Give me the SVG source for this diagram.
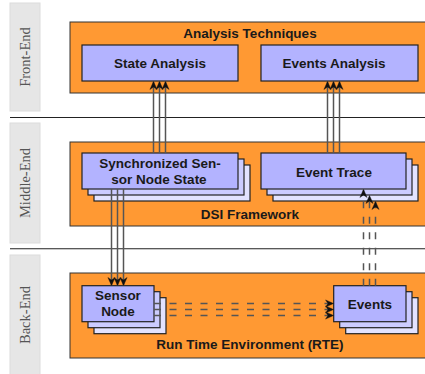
<svg xmlns="http://www.w3.org/2000/svg" width="425" height="374" viewBox="0 0 425 374">
  <style>
    .lane { fill: #e6e6e6; stroke: #dcdcdc; stroke-width: 1; }
    .lane-label { font-family: "Liberation Serif", "DejaVu Serif", serif; font-size: 14.5px; fill: #555; text-anchor: middle; }
    .layer { fill: #ff9933; stroke: #333; stroke-width: 1; }
    .sep { stroke: #222; stroke-width: 1.1; }
    .node { fill: #b3b3ff; stroke: #222; stroke-width: 1.2; }
    .node2 { fill: #ccccff; stroke: #222; stroke-width: 1.2; }
    .node3 { fill: #e3e3ff; stroke: #222; stroke-width: 1.2; }
    .label { font-family: "Liberation Sans", Arial, sans-serif; font-weight: bold; font-size: 13.5px; fill: #1a1a1a; text-anchor: middle; }
    .link { fill: none; stroke: #555; stroke-width: 1.5; }
    .dash { stroke-dasharray: 7 8.5; }
  </style>
  <defs>
    <marker id="head" viewBox="-9 -5 10 10" markerWidth="10" markerHeight="10" refX="0" refY="0" orient="auto" markerUnits="userSpaceOnUse">
      <path d="M0,0 L-8,-3.6 L-5.5,0 L-8,3.6 z" fill="#111" stroke="#111" stroke-width="0.4" stroke-linejoin="round"/>
    </marker>
  </defs>

  <!-- tier labels -->
  <g id="lane-front">
    <rect class="lane" x="10" y="3" width="30" height="108"/>
    <text class="lane-label" transform="translate(30,57) rotate(-90)">Front-End</text>
  </g>
  <g id="lane-middle">
    <rect class="lane" x="10" y="123" width="30" height="120"/>
    <text class="lane-label" transform="translate(30,183) rotate(-90)">Middle-End</text>
  </g>
  <g id="lane-back">
    <rect class="lane" x="10" y="255" width="30" height="125"/>
    <text class="lane-label" transform="translate(30,315) rotate(-90)">Back-End</text>
  </g>

  <!-- tier separators -->
  <line class="sep" x1="10" y1="117.5" x2="425" y2="117.5"/>
  <line class="sep" x1="10" y1="248.8" x2="425" y2="248.8"/>

  <!-- layers -->
  <g id="analysis-techniques">
    <rect class="layer" x="70" y="22" width="360" height="71"/>
    <text class="label" x="250" y="37.5">Analysis Techniques</text>
  </g>
  <g id="dsi-framework">
    <rect class="layer" x="70" y="142" width="360" height="84"/>
    <text class="label" x="250" y="218.5">DSI Framework</text>
  </g>
  <g id="rte">
    <rect class="layer" x="70" y="273" width="360" height="85"/>
    <text class="label" x="250" y="348.5">Run Time Environment (RTE)</text>
  </g>

  <!-- nodes -->
  <g id="state-analysis">
    <rect class="node" x="82" y="45" width="156" height="36"/>
    <text class="label" x="160" y="67.5">State Analysis</text>
  </g>
  <g id="events-analysis">
    <rect class="node" x="261" y="45" width="157" height="36"/>
    <text class="label" x="334" y="67.5">Events Analysis</text>
  </g>

  <g id="sync-state">
    <rect class="node3" x="94" y="165" width="156" height="36"/>
    <rect class="node2" x="88" y="159" width="156" height="36"/>
    <rect class="node" x="82" y="153" width="156" height="36"/>
    <text class="label" x="160" y="168">Synchronized Sen-</text>
    <text class="label" x="159" y="184">sor Node State</text>
  </g>
  <g id="event-trace">
    <rect class="node3" x="273" y="165" width="145" height="36"/>
    <rect class="node2" x="267" y="159" width="145" height="36"/>
    <rect class="node" x="261" y="153" width="145" height="36"/>
    <text class="label" x="334" y="177">Event Trace</text>
  </g>

  <g id="sensor-node">
    <rect class="node3" x="94" y="297.7" width="72" height="36"/>
    <rect class="node2" x="88" y="291.7" width="72" height="36"/>
    <rect class="node" x="82" y="285.7" width="72" height="36"/>
    <text class="label" x="118" y="300">Sensor</text>
    <text class="label" x="118" y="316">Node</text>
  </g>
  <g id="events">
    <rect class="node3" x="345.7" y="297.7" width="72.3" height="36"/>
    <rect class="node2" x="339.7" y="291.7" width="72.3" height="36"/>
    <rect class="node" x="333.7" y="285.7" width="72.3" height="36"/>
    <text class="label" x="370" y="309">Events</text>
  </g>

  <!-- connectors -->
  <g id="connectors">
    <!-- synchronized state up to state analysis -->
    <line class="link" x1="153.5" y1="153" x2="153.5" y2="81.5" marker-end="url(#head)"/>
    <line class="link" x1="159.5" y1="153" x2="159.5" y2="81.5" marker-end="url(#head)"/>
    <line class="link" x1="165.5" y1="153" x2="165.5" y2="81.5" marker-end="url(#head)"/>
    <!-- event trace up to events analysis -->
    <line class="link" x1="327.5" y1="153" x2="327.5" y2="81.5" marker-end="url(#head)"/>
    <line class="link" x1="333.5" y1="153" x2="333.5" y2="81.5" marker-end="url(#head)"/>
    <line class="link" x1="339.5" y1="153" x2="339.5" y2="81.5" marker-end="url(#head)"/>
    <!-- synchronized state down to sensor node -->
    <line class="link" x1="111.5" y1="189" x2="111.5" y2="285.5" marker-end="url(#head)"/>
    <line class="link" x1="117.5" y1="189" x2="117.5" y2="285.5" marker-end="url(#head)"/>
    <line class="link" x1="123.5" y1="189" x2="123.5" y2="285.5" marker-end="url(#head)"/>
    <!-- events up to event trace (dashed) -->
    <line class="link dash" x1="363.5" y1="285.7" x2="363.5" y2="189.5" marker-end="url(#head)"/>
    <line class="link dash" x1="369.5" y1="285.7" x2="369.5" y2="195.5" marker-end="url(#head)"/>
    <line class="link dash" x1="375.5" y1="285.7" x2="375.5" y2="201.5" marker-end="url(#head)"/>
    <!-- sensor node to events (dashed) -->
    <line class="link dash" x1="154" y1="303.5" x2="333.5" y2="303.5" marker-end="url(#head)"/>
    <line class="link dash" x1="154" y1="309.5" x2="333.5" y2="309.5" marker-end="url(#head)"/>
    <line class="link dash" x1="154" y1="315.5" x2="333.5" y2="315.5" marker-end="url(#head)"/>
  </g>
</svg>
